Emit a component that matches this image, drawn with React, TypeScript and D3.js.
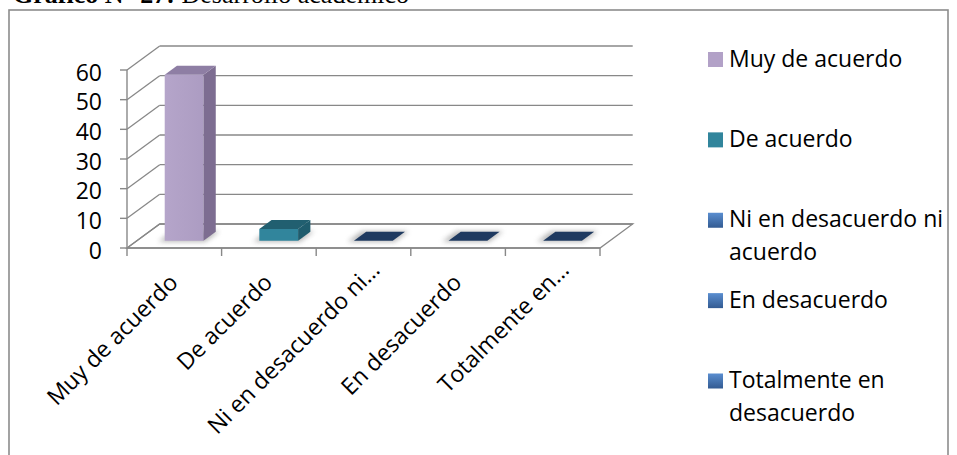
import React from 'react';
import * as d3 from 'd3';

// Survey responses: "Desarrollo académico"
const categories = [
  'Muy de acuerdo',
  'De acuerdo',
  'Ni en desacuerdo ni acuerdo',
  'En desacuerdo',
  'Totalmente en desacuerdo',
];
const axisLabels = ['Muy de acuerdo', 'De acuerdo', 'Ni en desacuerdo ni…', 'En desacuerdo', 'Totalmente en…'];
const legendLines = [
  ['Muy de acuerdo'],
  ['De acuerdo'],
  ['Ni en desacuerdo ni', 'acuerdo'],
  ['En desacuerdo'],
  ['Totalmente en', 'desacuerdo'],
];
const values = [56, 4, 0, 0, 0];
const yTicks = [0, 10, 20, 30, 40, 50, 60];

// face colours per point: front, side, top
const frontColors = ['#b2a1c7', '#31859c', '#2c4d75', '#2c4d75', '#2c4d75'];
const sideColors = ['#7d6d91', '#1f5c6d', '#1f3a5f', '#1f3a5f', '#1f3a5f'];
const topColors = ['#8e7ea4', '#215f70', '#1f3a60', '#1f3a60', '#1f3a60'];
const legendColors = ['#b2a1c7', '#31859c', 'url(#blueGrad)', 'url(#blueGrad)', 'url(#blueGrad)'];

const W = 957;
const H = 455;
const DX = 32.7; // depth offset of the back wall
const DY = 24;
const D0 = 0.3; // bar depth range (fraction of full depth)
const D1 = 0.675;
const FONT = '"Open Sans", sans-serif';
const GRID = '#888888';

export default function App() {
  const x = d3.scaleBand<string>().domain(categories).range([127, 600]).padding(0);
  const y = d3.scaleLinear().domain([0, 60]).range([248, 70]);
  const bw = x.bandwidth();
  const barW = bw * 0.41;

  const P = (px: number, v: number, d: number): [number, number] => [px + d * DX, y(v) - d * DY];
  const poly = (pts: [number, number][]) => pts.map((p) => p.join(',')).join(' ');

  const x0 = x.range()[0];
  const x1 = x.range()[1];

  const legendY = d3.scalePoint<number>().domain(d3.range(categories.length)).range([59.5, 381]);

  return (
    <svg
      width={W}
      height={H}
      style={{ position: 'absolute', left: 0, top: 0, background: '#fff' }}
      fontFamily={FONT}
    >
      <defs>
        <filter id="soft" x="-50%" y="-50%" width="200%" height="200%">
          <feGaussianBlur stdDeviation="2.6" />
        </filter>
        <linearGradient id="blueGrad" x1="0" y1="0" x2="0" y2="1">
          <stop offset="0" stopColor="#5a8ed0" />
          <stop offset="1" stopColor="#335b92" />
        </linearGradient>
        <linearGradient id="frontGrad0" x1="0" y1="0" x2="1" y2="0">
          <stop offset="0" stopColor="#b5a5ca" />
          <stop offset="1" stopColor="#ac9cc2" />
        </linearGradient>
      </defs>

      {/* caption above the frame */}
      <text x={13} y={3} fontFamily='"Liberation Serif", serif' fontSize={26} fill="#000">
        <tspan fontWeight="bold">Gráfico N° 27:</tspan>
        <tspan> Desarrollo académico</tspan>
      </text>

      {/* chart frame */}
      <rect x={9} y={10} width={939} height={470} fill="#fff" stroke="#8c8c8c" strokeWidth={1.6} />

      {/* floor */}
      <polygon
        points={poly([P(x0, 0, 0), P(x1, 0, 0), P(x1, 0, 1), P(x0, 0, 1)])}
        fill="#fff"
        stroke={GRID}
        strokeWidth={1.3}
      />

      {/* gridlines: back wall + side wall */}
      {yTicks.map((t) => (
        <g key={t}>
          <line
            x1={P(x0, t, 1)[0]}
            y1={P(x0, t, 1)[1]}
            x2={P(x1, t, 1)[0]}
            y2={P(x1, t, 1)[1]}
            stroke={GRID}
            strokeWidth={1.3}
          />
          <line
            x1={P(x0, t, 0)[0]}
            y1={P(x0, t, 0)[1]}
            x2={P(x0, t, 1)[0]}
            y2={P(x0, t, 1)[1]}
            stroke={GRID}
            strokeWidth={1.3}
          />
        </g>
      ))}

      {/* value axis */}
      <line x1={x0} y1={y(0)} x2={x0} y2={y(60)} stroke={GRID} strokeWidth={1.4} />
      {yTicks.map((t) => (
        <g key={'yt' + t}>
          <line x1={x0 - 7} y1={y(t)} x2={x0} y2={y(t)} stroke={GRID} strokeWidth={1.4} />
          <text x={102} y={y(t) + 10.7} textAnchor="end" fontSize={23} fill="#000">
            {t}
          </text>
        </g>
      ))}

      {/* category axis */}
      <line x1={x0} y1={y(0)} x2={x1} y2={y(0)} stroke={GRID} strokeWidth={1.4} />
      {[...categories.map((c) => x(c) as number), x1].map((tx, i) => (
        <line key={'ct' + i} x1={tx} y1={y(0)} x2={tx} y2={y(0) + 8} stroke={GRID} strokeWidth={1.4} />
      ))}

      {/* floor shadows */}
      {categories.map((c, i) => {
        const bx0 = (x(c) as number) + (bw - barW) / 2;
        const bx1 = bx0 + barW;
        return (
          <polygon
            key={'sh' + i}
            points={poly([
              P(bx0 - 5, 0, D0 - 0.04),
              P(bx1 + 3, 0, D0 - 0.04),
              P(bx1 + 3, 0, D1 + 0.02),
              P(bx0 - 5, 0, D1 + 0.02),
            ])}
            fill="#7a7a7a"
            opacity={0.55}
            filter="url(#soft)"
          />
        );
      })}

      {/* bars */}
      {categories.map((c, i) => {
        const v = values[i];
        const bx0 = (x(c) as number) + (bw - barW) / 2;
        const bx1 = bx0 + barW;
        return (
          <g key={'bar' + i}>
            {v > 0 && (
              <>
                <polygon
                  points={poly([P(bx0, 0, D0), P(bx1, 0, D0), P(bx1, v, D0), P(bx0, v, D0)])}
                  fill={i === 0 ? 'url(#frontGrad0)' : frontColors[i]}
                />
                <polygon points={poly([P(bx1, 0, D0), P(bx1, 0, D1), P(bx1, v, D1), P(bx1, v, D0)])} fill={sideColors[i]} />
              </>
            )}
            <polygon points={poly([P(bx0, v, D0), P(bx1, v, D0), P(bx1, v, D1), P(bx0, v, D1)])} fill={topColors[i]} />
          </g>
        );
      })}

      {/* rotated category labels */}
      {categories.map((c, i) => {
        const cx = (x(c) as number) + bw / 2;
        const truncated = axisLabels[i].endsWith('…');
        const shift = truncated ? 18 : 0;
        const ax = cx + 5 + shift * Math.SQRT1_2;
        const ay = 284 - shift * Math.SQRT1_2;
        return (
          <text
            key={'cl' + i}
            transform={`translate(${ax},${ay}) rotate(-45)`}
            textAnchor="end"
            fontSize={23}
            fill="#000"
          >
            {axisLabels[i]}
          </text>
        );
      })}

      {/* legend */}
      {categories.map((c, i) => {
        const cy = legendY(i) as number;
        return (
          <g key={'lg' + i}>
            <rect x={708} y={cy - 7.5} width={15} height={15} fill={legendColors[i]} />
            {legendLines[i].map((ln, j) => (
              <text key={j} x={729} y={cy + 7 + j * 33} fontSize={23} fill="#000">
                {ln}
              </text>
            ))}
          </g>
        );
      })}
    </svg>
  );
}
